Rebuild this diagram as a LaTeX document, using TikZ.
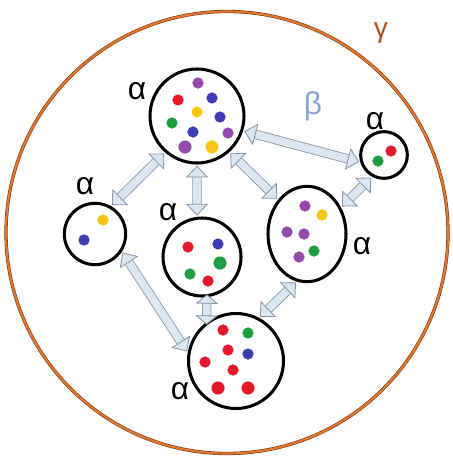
\documentclass[tikz,border=0pt]{standalone}
\usepackage{fontspec}
\setmainfont{Liberation Sans}
\usetikzlibrary{arrows.meta,shapes.geometric}
\definecolor{linkfill}{RGB}{219,230,243}
\definecolor{linkedge}{RGB}{135,150,170}
\definecolor{ringorange}{RGB}{230,118,40}
\definecolor{ringbrown}{RGB}{110,55,30}
\definecolor{betablue}{RGB}{140,165,215}
\definecolor{dotred}{RGB}{228,26,42}
\definecolor{dotblue}{RGB}{62,62,178}
\definecolor{dotpurple}{RGB}{150,72,172}
\definecolor{dotyellow}{RGB}{250,196,20}
\definecolor{dotgreen}{RGB}{30,158,64}

\begin{document}
\begin{tikzpicture}[
    x=0.03cm, y=-0.03cm,
    >={Triangle[length=10pt,width=19pt,fill=linkfill,line width=0.7pt]},
    font=\fontsize{27}{27}\selectfont,
    ring/.style={
        circle,
        draw=ringbrown,
        double=ringorange,
        double distance=1.8pt,
        line width=0.5pt,
        inner sep=0pt
    },
    group/.style={
        circle,
        draw=black,
        line width=2.6pt,
        inner sep=0pt
    },
    link/.style={
        <->,
        draw=linkedge,
        double=linkfill,
        double distance=6.6pt,
        line width=0.7pt,
        shorten <=1pt,
        shorten >=1pt
    },
    tag/.style={inner sep=0pt},
    ball/.style={radius=4.8pt},
    bigball/.style={radius=5.6pt}
]

\useasboundingbox (0,0) rectangle (452,457);

\node[ring, minimum size=13.26cm] (env) at (227,232.5) {};

\node[group, minimum size=2.82cm] (hub) at (197,116) {};
\node[group, minimum size=1.40cm] (tiny) at (384,155) {};
\node[group, minimum size=1.84cm] (lone) at (95,234) {};
\node[group, minimum size=2.34cm] (mid) at (202,257) {};
\node[group, ellipse, minimum width=2.34cm, minimum height=2.86cm] (oval) at (307,234) {};
\node[group, minimum size=2.85cm] (base) at (236,361) {};

\node[tag] (lhub) at (137,91) {α};
\node[tag] (ltiny) at (375,121) {α};
\node[tag] (llone) at (85,186) {α};
\node[tag] (lmid) at (168,212) {α};
\node[tag] (loval) at (362,246) {α};
\node[tag] (lbase) at (180,391) {α};
\node[tag, text=betablue] (beta) at (313,106) {β};
\node[tag, text=ringorange!75!black, font=\fontsize{24}{24}\selectfont] (gamma) at (381,33) {γ};

\draw[link] (hub.229) -- (lone.60);
\draw[link] (hub.270) -- (mid.97);
\draw[link] (hub.312) -- (oval.130);
\draw[link] (hub.342) -- (tiny.197);
\draw[link] (tiny.241) -- (oval.38);
\draw[link] (lone.327) -- (base.170);
\draw[link, shorten <=-2.5pt, shorten >=-2.5pt,
    >={Triangle[length=8pt,width=19pt,fill=linkfill,line width=0.7pt]}] (mid.277) -- (base.127);
\draw[link] (oval.258) -- (base.62);

\fill[dotpurple, ball] (198,83) circle;
\fill[dotred, ball] (178,100) circle;
\fill[dotblue, ball] (212,98) circle;
\fill[dotyellow, ball] (197,112) circle;
\fill[dotblue, ball] (220,117) circle;
\fill[dotgreen, ball] (172,123) circle;
\fill[dotblue, ball] (193,132) circle;
\fill[dotpurple, ball] (228,133) circle;
\fill[dotpurple, bigball] (185,147) circle;
\fill[dotyellow, bigball] (212,147) circle;

\fill[dotred, ball] (391,151) circle;
\fill[dotgreen, ball] (378,161) circle;

\fill[dotyellow, ball] (103,220) circle;
\fill[dotblue, ball] (84,240) circle;

\fill[dotred, ball] (188,247) circle;
\fill[dotblue, ball] (218,244) circle;
\fill[dotgreen, bigball] (220,263) circle;
\fill[dotgreen, ball] (190,274) circle;
\fill[dotred, ball] (208,281) circle;

\fill[dotpurple, ball] (305,206) circle;
\fill[dotyellow, ball] (322,215) circle;
\fill[dotpurple, ball] (287,232) circle;
\fill[dotpurple, ball] (304,234) circle;
\fill[dotgreen, ball] (314,251) circle;
\fill[dotpurple, ball] (299,257) circle;

\fill[dotred, ball] (223,330) circle;
\fill[dotgreen, ball] (248,333) circle;
\fill[dotred, ball] (228,350) circle;
\fill[dotblue, ball] (248,354) circle;
\fill[dotred, ball] (205,362) circle;
\fill[dotred, ball] (233,370) circle;
\fill[dotred, bigball] (218,388) circle;
\fill[dotred, bigball] (248,388) circle;

\end{tikzpicture}
\end{document}
